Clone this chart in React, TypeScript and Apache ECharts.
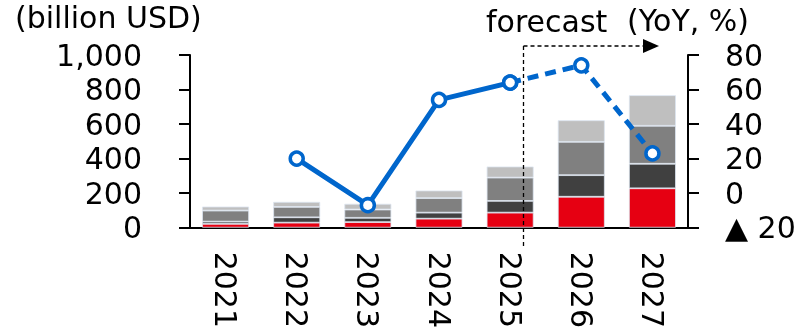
import React, { useEffect, useRef } from "react";
import * as echarts from "echarts";

const years = ["2021", "2022", "2023", "2024", "2025", "2026", "2027"];
const seriesRed = [22, 29, 32, 52, 87, 179, 228];
const seriesDark = [13, 31, 25, 35, 68, 125, 142];
const seriesGray = [64, 60, 48, 84, 135, 193, 220];
const seriesLight = [23, 29, 33, 44, 64, 125, 177];
const yoyActual = [null, 20, -7, 54, 64, null, null];
const yoyForecast = [null, null, null, null, 64, 74, 23];

const FONT = "DejaVu Sans";

export default function App() {
  const ref = useRef<HTMLDivElement>(null);
  useEffect(() => {
    if (!ref.current) return;
    const chart = echarts.init(ref.current, null, { renderer: "svg" });
    const barBase = {
      type: "bar",
      stack: "total",
      barWidth: "66%",
      yAxisIndex: 0,
      itemStyle: { borderColor: "#dce4f0", borderWidth: 0.8 },
    };
    const lineBase = {
      type: "line",
      yAxisIndex: 1,
      symbol: "circle",
      symbolSize: 13,
      z: 5,
      itemStyle: { color: "#ffffff", borderColor: "#0066cc", borderWidth: 3.5 },
    };
    chart.setOption({
      animation: false,
      textStyle: { fontFamily: FONT },
      grid: { left: 190, right: 120, top: 55, bottom: 103, containLabel: false },
      xAxis: {
        type: "category",
        data: years,
        axisLine: { lineStyle: { color: "#000", width: 2 } },
        axisTick: { show: false },
        axisLabel: { rotate: -90, margin: 24, fontSize: 30, color: "#000", fontFamily: FONT },
      },
      yAxis: [
        {
          type: "value",
          min: 0,
          max: 1000,
          interval: 200,
          splitLine: { show: false },
          axisLine: { show: true, lineStyle: { color: "#000", width: 2 } },
          axisTick: { show: true, length: 11, lineStyle: { color: "#000", width: 2 } },
          axisLabel: {
            fontSize: 30,
            color: "#000",
            fontFamily: FONT,
            margin: 48,
            padding: [0, 0, 6, 0],
            formatter: (v: number) => v.toLocaleString("en-US"),
          },
        },
        {
          type: "value",
          min: -20,
          max: 80,
          interval: 20,
          position: "right",
          splitLine: { show: false },
          axisLine: { show: true, lineStyle: { color: "#000", width: 2 } },
          axisTick: { show: true, length: 11, lineStyle: { color: "#000", width: 2 } },
          axisLabel: {
            fontSize: 30,
            color: "#000",
            fontFamily: FONT,
            margin: 37,
            padding: [0, 0, 6, 0],
            formatter: (v: number) => (v < 0 ? "▲ " + Math.abs(v) : String(v)),
          },
        },
      ],
      series: [
        { ...barBase, name: "red", data: seriesRed, itemStyle: { ...barBase.itemStyle, color: "#e60012" } },
        { ...barBase, name: "dark", data: seriesDark, itemStyle: { ...barBase.itemStyle, color: "#404040" } },
        { ...barBase, name: "gray", data: seriesGray, itemStyle: { ...barBase.itemStyle, color: "#808080" } },
        { ...barBase, name: "light", data: seriesLight, itemStyle: { ...barBase.itemStyle, color: "#bfbfbf" } },
        {
          ...lineBase,
          name: "YoY forecast",
          data: yoyForecast,
          lineStyle: { color: "#0066cc", width: 5, type: [11, 7] },
        },
        {
          ...lineBase,
          name: "YoY",
          data: yoyActual,
          lineStyle: { color: "#0066cc", width: 5, type: "solid" },
        },
      ],
      graphic: [
        {
          type: "text",
          left: 15,
          top: 2,
          style: { text: "(billion USD)", fontSize: 30, fontFamily: FONT, fill: "#000" },
        },
        {
          type: "text",
          left: 486,
          top: 6,
          style: { text: "forecast", fontSize: 30, fontFamily: FONT, fill: "#000" },
        },
        {
          type: "text",
          left: 627,
          top: 5,
          style: { text: "(YoY, %)", fontSize: 30, fontFamily: FONT, fill: "#000" },
        },
        {
          type: "line",
          z: 10,
          shape: { x1: 523.5, y1: 46, x2: 523.5, y2: 246 },
          style: { stroke: "#000", lineWidth: 1.3, lineDash: [4, 3] },
        },
        {
          type: "line",
          z: 10,
          shape: { x1: 523.5, y1: 46, x2: 645, y2: 46 },
          style: { stroke: "#000", lineWidth: 1.3, lineDash: [4, 3] },
        },
        {
          type: "polygon",
          z: 10,
          shape: { points: [[643, 39], [643, 53], [659, 46]] },
          style: { fill: "#000" },
        },
      ],
    });
    return () => chart.dispose();
  }, []);
  return (
    <div
      ref={ref}
      style={{ position: "fixed", left: 0, top: 0, width: 808, height: 331 }}
    />
  );
}
